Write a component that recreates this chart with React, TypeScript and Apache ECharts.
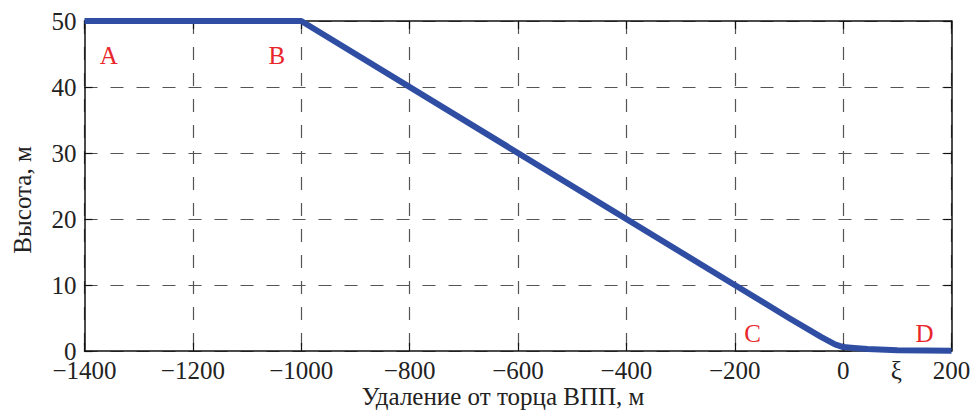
import React, { useEffect, useRef } from "react";
import * as echarts from "echarts";

const xValues = [-1400, -1000, -200, -100, -40, -15, 0, 20, 45, 100, 200];
const yValues = [50, 50, 10, 5, 2.1, 1.0, 0.6, 0.45, 0.3, 0.12, 0.05];
const xTicks = [-1400, -1200, -1000, -800, -600, -400, -200, 0, 200];
const yTicks = [0, 10, 20, 30, 40, 50];
const pointLabels = ["A", "B", "C", "D"];
const pointX = [-1355, -1045, -167, 150];
const pointY = [44.7, 44.7, 2.7, 2.7];
const xiLabel = "ξ";
const xiValue = 98;
const xTitle = "Удаление от торца ВПП, м";
const yTitle = "Высота, м";

const FONT = "'Liberation Serif', 'Times New Roman', serif";

export default function App() {
  const ref = useRef<HTMLDivElement>(null);
  useEffect(() => {
    document.body.style.margin = "0";
    document.body.style.overflow = "hidden";
    const chart = echarts.init(ref.current!, null, { renderer: "svg" });
    const gridColor = "#555";
    const tickStyle = { color: "#222", fontFamily: FONT, fontSize: 25 };
    const option: any = {
      animation: false,
      backgroundColor: "#fff",
      grid: { left: 84.5, right: 24.5, top: 21, bottom: 59, containLabel: false },
      xAxis: [
        {
          type: "value",
          min: -1400,
          max: 200,
          interval: 200,
          axisLine: { show: true, onZero: false, lineStyle: { color: "#111", width: 1.5 } },
          axisTick: { show: true, inside: true, length: 8, lineStyle: { color: "#111", width: 1.2 } },
          axisLabel: {
            ...tickStyle,
            lineHeight: 18,
            margin: 10,
            formatter: (v: number) => (xTicks.includes(v) ? String(v).replace("-", "\u2212") : ""),
          },
          splitLine: { show: true, lineStyle: { color: gridColor, width: 1.2, type: [13, 13] } },
        },
        {
          type: "value",
          position: "top",
          min: -1400,
          max: 200,
          interval: 200,
          axisLine: { show: true, onZero: false, lineStyle: { color: "#111", width: 1.5 } },
          axisTick: { show: true, inside: true, length: 8, lineStyle: { color: "#111", width: 1.2 } },
          axisLabel: { show: false },
          splitLine: { show: false },
        },
      ],
      yAxis: [
        {
          type: "value",
          min: 0,
          max: 50,
          interval: 10,
          axisLine: { show: true, onZero: false, lineStyle: { color: "#111", width: 1.5 } },
          axisTick: { show: true, inside: true, length: 8, lineStyle: { color: "#111", width: 1.2 } },
          axisLabel: {
            ...tickStyle,
            lineHeight: 16,
            margin: 8,
            verticalAlign: "middle",
            padding: [0, 0, 5, 0],
            formatter: (v: number) => (yTicks.includes(v) ? String(v) : ""),
          },
          splitLine: { show: true, lineStyle: { color: gridColor, width: 1.2, type: [13, 13] } },
        },
        {
          type: "value",
          position: "right",
          min: 0,
          max: 50,
          interval: 10,
          axisLine: { show: true, onZero: false, lineStyle: { color: "#111", width: 1.5 } },
          axisTick: { show: true, inside: true, length: 8, lineStyle: { color: "#111", width: 1.2 } },
          axisLabel: { show: false },
          splitLine: { show: false },
        },
      ],
      series: [
        {
          type: "line",
          data: xValues.map((x, i) => [x, yValues[i]]),
          showSymbol: false,
          symbol: "none",
          clip: true,
          lineStyle: { color: "#2f4ea3", width: 6, join: "round" },
          z: 5,
        },
      ],
    };
    chart.setOption(option);

    const graphics: any[] = [];
    pointLabels.forEach((t, i) => {
      const [px, py] = chart.convertToPixel({ gridIndex: 0 }, [pointX[i], pointY[i]]);
      graphics.push({
        type: "text",
        x: px,
        y: py,
        style: {
          text: t,
          fill: "#e8262b",
          font: `25px ${FONT}`,
          align: "center",
          verticalAlign: "middle",
        },
        z: 10,
      });
    });
    const [xiPx] = chart.convertToPixel({ gridIndex: 0 }, [xiValue, 0]);
    graphics.push({
      type: "text",
      x: xiPx,
      y: 370,
      style: { text: xiLabel, fill: "#222", font: `25px ${FONT}`, align: "center", verticalAlign: "middle" },
    });
    graphics.push({
      type: "text",
      x: 503,
      y: 396,
      style: { text: xTitle, fill: "#222", font: `25px ${FONT}`, align: "center", verticalAlign: "middle" },
    });
    graphics.push({
      type: "text",
      x: 22,
      y: 200,
      rotation: Math.PI / 2,
      style: { text: yTitle, fill: "#222", font: `25px ${FONT}`, align: "center", verticalAlign: "middle" },
    });
    chart.setOption({ graphic: graphics });

    return () => chart.dispose();
  }, []);
  return <div ref={ref} style={{ width: 976, height: 410 }} />;
}
